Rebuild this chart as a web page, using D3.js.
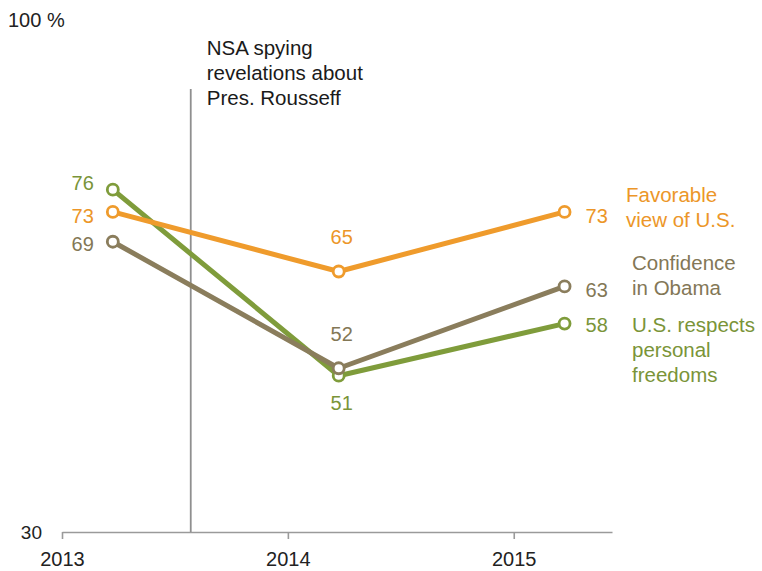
<!DOCTYPE html>
<html>
<head>
<meta charset="utf-8">
<script src="https://cdn.jsdelivr.net/npm/d3@7"></script>
<style>
  body { margin: 0; background: #fff; }
  text { font-family: "Liberation Sans", Arial, sans-serif; }
</style>
</head>
<body>
<div id="chart"></div>
<script>
// survey years (spring surveys, plotted a bit after Jan 1)
const years = [2013, 2014, 2015];
const tickYears = [2013, 2014, 2015];
const favorable = [73, 65, 73];
const confidence = [69, 52, 63];
const freedoms = [76, 51, 58];
const eventYear = 2013.57;
const eventLabel = ["NSA spying", "revelations about", "Pres. Rousseff"];

const width = 762, height = 571;
const surveyOffset = 0.225;

const x = d3.scaleLinear().domain([2013, 2015.435]).range([62, 612]);
const y = d3.scaleLinear().domain([30, 100]).range([532, 11]);

const svg = d3.select("#chart").append("svg")
  .attr("width", width).attr("height", height);

// series, drawn bottom to top
const series = [
  { name: ["U.S. respects", "personal", "freedoms"], values: freedoms, color: "#7f9c3b", text: "#7a9438",
    dy: [-7, 27, 1], labelX: 632, labelY: 325 },
  { name: ["Confidence", "in Obama"], values: confidence, color: "#8a7d5c", text: "#837756",
    dy: [2, -34, 4], labelX: 632, labelY: 263 },
  { name: ["Favorable", "view of U.S."], values: favorable, color: "#ef9b2c", text: "#ec9628",
    dy: [4, -35, 4], labelX: 626, labelY: 195 }
];

// axis
const axis = svg.append("g")
  .attr("transform", `translate(0,${y(30)})`)
  .call(d3.axisBottom(x).tickValues(tickYears).tickFormat(d3.format("d")).tickSize(7).tickSizeOuter(0).tickPadding(13));
axis.select(".domain").attr("stroke", "#9a9a9a").attr("stroke-width", 1.6);
axis.selectAll(".tick line").attr("stroke", "#9a9a9a").attr("stroke-width", 1.6);
axis.selectAll(".tick text").attr("font-size", 20).attr("fill", "#222")
  .attr("font-family", "'Liberation Sans', Arial, sans-serif");

svg.append("text").attr("x", 42).attr("y", y(30)).attr("dy", "0.35em")
  .attr("text-anchor", "end").attr("font-size", 19).attr("fill", "#222").text("30");
svg.append("text").attr("x", 8).attr("y", y(100) + 9).attr("dy", "0.35em")
  .attr("font-size", 20).attr("fill", "#222").text("100 %");

// event line
svg.append("line")
  .attr("x1", x(eventYear)).attr("x2", x(eventYear))
  .attr("y1", 89).attr("y2", y(30))
  .attr("stroke", "#8f8f8f").attr("stroke-width", 1.8);
svg.append("g").selectAll("text").data(eventLabel).join("text")
  .attr("x", x(eventYear) + 16).attr("y", (d, i) => 48 + i * 25).attr("dy", "0.35em")
  .attr("font-size", 20.5).attr("fill", "#1a1a1a").text(d => d);

const line = d3.line().x(d => x(d.year + surveyOffset)).y(d => y(d.value));

series.forEach(s => {
  const pts = years.map((yr, i) => ({ year: yr, value: s.values[i] }));
  const g = svg.append("g");
  g.append("path").datum(pts).attr("d", line)
    .attr("fill", "none").attr("stroke", s.color).attr("stroke-width", 5)
    .attr("stroke-linejoin", "round");
  g.selectAll("circle").data(pts).join("circle")
    .attr("cx", d => x(d.year + surveyOffset)).attr("cy", d => y(d.value))
    .attr("r", 5.5).attr("fill", "#fff").attr("stroke", s.color).attr("stroke-width", 2.8);
  g.selectAll("text.val").data(pts).join("text").attr("class", "val")
    .attr("x", (d, i) => i === 0 ? x(d.year + surveyOffset) - 19 : i === 1 ? x(d.year + surveyOffset) + 3 : x(d.year + surveyOffset) + 21)
    .attr("y", (d, i) => y(d.value) + s.dy[i]).attr("dy", "0.35em")
    .attr("text-anchor", (d, i) => i === 0 ? "end" : i === 1 ? "middle" : "start")
    .attr("font-size", 20).attr("fill", s.text).text(d => d.value);
  g.selectAll("text.name").data(s.name).join("text").attr("class", "name")
    .attr("x", s.labelX).attr("y", (d, i) => s.labelY + i * 25).attr("dy", "0.35em")
    .attr("font-size", 20.5).attr("fill", s.text).text(d => d);
});
</script>
</body>
</html>
